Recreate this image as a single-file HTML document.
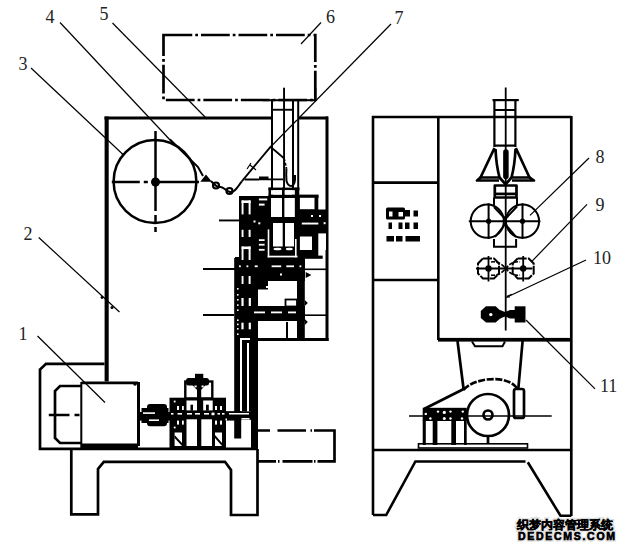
<!DOCTYPE html>
<html><head><meta charset="utf-8">
<style>
html,body{margin:0;padding:0;background:#fff;width:626px;height:551px;overflow:hidden}
svg{display:block}
text{font-family:"Liberation Serif",serif;font-size:18px;fill:#222}
</style></head>
<body>
<svg width="626" height="551" viewBox="0 0 626 551">
<rect width="626" height="551" fill="#fff"/>
<!-- labels -->
<g>
<text x="18.5" y="70">3</text>
<text x="45.5" y="23">4</text>
<text x="99.5" y="20">5</text>
<text x="326" y="23.3">6</text>
<text x="394.5" y="24">7</text>
<text x="23.5" y="240">2</text>
<text x="18.5" y="339.5">1</text>
<text x="595.5" y="163.3">8</text>
<text x="595.5" y="210.8">9</text>
<text x="593" y="264">10</text>
<text x="600" y="392">11</text>
</g>
<!-- leader lines -->
<g stroke="#000" stroke-width="1.2" fill="none">
<line x1="31" y1="68" x2="122.5" y2="154"/>
<line x1="60" y1="22.5" x2="171" y2="141"/>
<line x1="112.5" y1="23" x2="207" y2="119"/>
<line x1="321" y1="22.5" x2="301" y2="44"/>
<line x1="391" y1="24" x2="270.5" y2="147"/>
<line x1="38.75" y1="237.5" x2="119.5" y2="312"/>
<line x1="37.5" y1="336" x2="105" y2="402.5"/>
<line x1="589" y1="158" x2="530" y2="215.4"/>
<line x1="587" y1="204.4" x2="531.6" y2="261.6"/>
<line x1="586" y1="260" x2="506" y2="297.5"/>
<line x1="595" y1="388.8" x2="526" y2="320"/>
</g>
<g fill="#000"><circle cx="102" cy="297.5" r="1.4"/><circle cx="112" cy="307.5" r="1.5"/><circle cx="106.5" cy="151" r="1.3"/><circle cx="123" cy="154.5" r="1.3"/></g>
<!-- LEFT MACHINE -->
<g id="left">
<!-- dash-dot hopper rect -->
<path d="M163.5 35 H315.3 V100 H163.5 Z" fill="none" stroke="#000" stroke-width="2.7" stroke-dasharray="28.75,3,2.75,3"/>
<!-- frame -->
<rect x="104.5" y="116.5" width="167.5" height="3" fill="#000"/>
<rect x="297" y="116.5" width="31" height="3" fill="#000"/>
<rect x="104.6" y="116.5" width="4.1" height="265" fill="#000"/>
<rect x="325.5" y="116.5" width="3" height="224.5" fill="#000"/>
<rect x="257" y="338" width="71.6" height="3" fill="#000"/>
<!-- film roll -->
<circle cx="155" cy="181.5" r="41.4" fill="none" stroke="#000" stroke-width="2.5"/>
<circle cx="155.5" cy="182" r="4.5" fill="#000"/>
<path d="M155.5 131 V232" stroke="#000" stroke-width="2.5" stroke-dasharray="80,4,8,4"/>
<path d="M111.8 182 H199" stroke="#000" stroke-width="2.6" stroke-dasharray="28,4,4,4,50"/>

<!-- film path & V -->
<g stroke="#000" stroke-width="2" fill="none">
<path d="M170 139.5 L198 167 L203 176"/>
<path d="M241.8 181.3 L270.5 146.8 L284 158.3" stroke-width="1.8"/>
<path d="M284 158.3 L286.4 168.3" stroke-width="1.8" stroke-dasharray="3,1.5"/>
<path d="M286.4 168.3 Q286 176 286.5 181 Q288 186 291 186 Q294.5 185.5 295 180 V175" stroke-width="2"/>
<path d="M211 181 C214 184,217 188,220 187 C223 186,225 191,230 192 C235 193,238 186,241.8 181.3" stroke-width="2"/>
<path d="M250 165 l6 5 M247 169 l4 -6" stroke-width="1.2"/>
</g>
<path d="M200.3 181.8 L206 174.6 L211.8 181.8 Z" fill="#000"/>
<circle cx="216" cy="185.5" r="3" fill="none" stroke="#000" stroke-width="2.2"/>
<circle cx="229.5" cy="191" r="3" fill="none" stroke="#000" stroke-width="2.2"/>
<!-- left tube -->
<g fill="#000">
<rect x="262.5" y="99.2" width="53.8" height="2"/>
<rect x="271" y="99.2" width="2" height="97"/>
<rect x="292" y="99.2" width="2" height="97"/>
<rect x="297.2" y="99.2" width="2" height="97"/>
<rect x="283.1" y="87.7" width="1.9" height="108"/>
<rect x="271" y="108.8" width="23" height="1.9"/>
<rect x="314.4" y="88" width="1.9" height="13"/>
<path d="M244.6 178.4 H259 V176.6 H268.5 V178.4 H283 V180.2 H259 V180.6 H244.6 Z"/>
</g>
<rect x="294" y="116.4" width="3.2" height="3.2" fill="#fff"/>
<!-- gear assembly upper -->
<g fill="#000">
<rect x="268.5" y="187.6" width="31" height="2.6"/>
<rect x="268.5" y="194.6" width="50" height="3.4"/>
<rect x="239" y="196" width="31" height="62"/>
<rect x="268.5" y="187.6" width="2.5" height="70"/>
<rect x="282" y="187.6" width="2.6" height="70"/>
<rect x="294.6" y="187.6" width="4.5" height="70"/>
<rect x="268.5" y="217" width="31" height="41"/>
<rect x="299" y="195" width="19.3" height="63"/>
<rect x="299" y="209.5" width="28" height="40.5"/>
<rect x="299" y="249" width="7" height="9"/>
<rect x="235" y="257" width="70" height="24"/>
<rect x="234.2" y="258" width="24" height="80"/>
<rect x="258" y="306" width="47" height="15"/>
<rect x="268" y="304" width="16" height="19" rx="2"/>
<rect x="297" y="257" width="7.8" height="81"/>
<rect x="285" y="299" width="12.5" height="8"/>
<rect x="286" y="322" width="2" height="16"/>
<rect x="219" y="219.5" width="20" height="1.9"/>
<rect x="203" y="268" width="32" height="2"/>
<rect x="203" y="314" width="31" height="2"/>
<rect x="305" y="268.5" width="21" height="1.6"/>
<rect x="305" y="314.4" width="21" height="1.6"/>

<path d="M305.7 272 L311.4 275 L305.7 278 Z"/>
<path d="M304.8 300 l3 3 l-3 3 Z M304.8 319 l3 3 l-3 3 Z"/>
</g>
<g fill="#fff">
<rect x="241.6" y="200.4" width="9" height="2.6"/>
<rect x="241.6" y="200.4" width="1.9" height="14"/>
<rect x="248.6" y="200.4" width="2" height="14"/>
<rect x="241.6" y="229.8" width="1.9" height="7.2"/>
<rect x="248.6" y="229.8" width="2" height="7.2"/>
<rect x="258.9" y="198.5" width="8.3" height="1.9"/>
<rect x="258.9" y="203.6" width="5.7" height="2"/>
<rect x="271" y="190.2" width="11" height="4.4"/>
<rect x="284.6" y="190.2" width="10" height="4.4"/>
<rect x="271" y="198" width="11" height="19"/>
<rect x="284.6" y="198" width="10" height="19"/>
<rect x="273" y="223" width="9.7" height="23.5"/>
<rect x="285" y="223" width="9" height="23.5"/>
<rect x="267.7" y="255.7" width="29.8" height="1.7"/>
<rect x="267.7" y="229.4" width="1.6" height="28"/>
<rect x="295" y="239" width="1.6" height="18.4"/>
<ellipse cx="277.5" cy="249" rx="4" ry="1.3"/>
<ellipse cx="289.3" cy="249" rx="3.5" ry="1.3"/>
<rect x="299.9" y="197.8" width="14.6" height="11.4"/>
<rect x="311" y="215" width="2" height="2"/>
<rect x="319" y="215" width="2" height="2"/>
<rect x="301.8" y="222.6" width="16.5" height="1.9"/>
<rect x="323.6" y="222.2" width="2" height="2"/>
<rect x="299.9" y="236.5" width="12.1" height="13.5"/>
<rect x="318.3" y="233.4" width="7.7" height="16.6"/>
<rect x="241.6" y="246.5" width="9" height="2.6"/>
<rect x="241.6" y="246.5" width="1.9" height="13.5"/>
<rect x="248.6" y="246.5" width="2" height="13.5"/>
<rect x="253.5" y="220.5" width="2" height="2"/>
<rect x="258.3" y="222.3" width="2" height="2"/>
<rect x="258.9" y="239.2" width="5.7" height="1.8"/>
<rect x="258.9" y="243.8" width="5.7" height="1.8"/>
<rect x="258.9" y="248.9" width="5.7" height="1.8"/>
<rect x="239" y="265.4" width="1.8" height="1.8"/>
<rect x="246.5" y="265.4" width="1.8" height="1.8"/>
<rect x="254.7" y="265.4" width="3" height="1.8"/>
<rect x="271.6" y="265.4" width="9.6" height="1.8"/>
<rect x="286.3" y="265.4" width="7.7" height="1.8"/>
<rect x="299.5" y="265.4" width="1.8" height="1.8"/>
<rect x="241.6" y="276" width="1.9" height="8"/>
<rect x="248.6" y="276" width="2" height="8"/>
<path d="M268 281 H297 V306 H258 V289 H268 Z"/>
<rect x="286.7" y="300.5" width="9.3" height="4.3"/>
<rect x="254" y="311.5" width="11" height="1.8"/>
<rect x="271" y="311.5" width="11" height="1.8"/>
<rect x="288" y="311.5" width="8" height="1.8"/>
<rect x="258" y="321" width="28" height="17"/>
<rect x="288" y="321" width="9" height="17"/>
<rect x="280" y="273.5" width="2" height="2"/>
<rect x="264.5" y="280" width="2" height="2"/>
<rect x="241.4" y="298" width="2.2" height="8"/>
<rect x="248.7" y="298" width="2.2" height="8"/>
<rect x="241.4" y="322.7" width="2.2" height="6.6"/>
<rect x="248.7" y="322.7" width="2.2" height="6.6"/>
<rect x="237" y="288" width="1.6" height="1.6"/>
<rect x="237" y="294" width="1.6" height="1.6"/>
<rect x="237" y="299" width="1.6" height="1.6"/>
<rect x="237" y="304.3" width="1.6" height="1.6"/>
<rect x="237" y="309.4" width="1.6" height="1.6"/>
<rect x="237" y="319.4" width="1.6" height="1.6"/>
<rect x="237" y="323.6" width="1.6" height="1.6"/>
<rect x="237" y="328" width="1.6" height="1.6"/>
<rect x="237" y="333.4" width="1.6" height="1.6"/>
<rect x="237" y="339" width="1.6" height="1.6"/>
</g>
<g fill="none" stroke="#000" stroke-width="1.8">
<rect x="285.5" y="299.5" width="11.5" height="7"/>
</g>
<g fill="#000">
<rect x="258" y="280" width="10" height="9.5"/>
<rect x="305" y="255.6" width="17.7" height="3.2"/>
</g>
<rect x="266" y="286" width="2" height="2" fill="#fff"/>
<!-- chain / vertical drive below -->
<g fill="#000">
<rect x="234.2" y="338" width="23.6" height="73"/>
<rect x="234.2" y="411" width="7" height="27.5"/>
<rect x="251" y="338" width="7" height="111"/>
<rect x="225" y="411.4" width="26" height="8.2"/>
</g>
<g fill="#fff">
<rect x="240" y="338" width="2" height="73"/>
<rect x="240" y="338" width="10" height="2"/>
<rect x="247" y="343" width="2" height="69"/>
<rect x="227" y="413" width="22" height="1.5"/>
<rect x="241.5" y="418" width="8" height="1.5"/>
</g>
</g>

<!-- motor -->
<g fill="none" stroke="#000" stroke-width="2.7">
<path d="M104.5 363.8 H46 L40 369.5 V448.8 H257.5"/>
<path d="M81.3 443 H60 L55 438 V391 L60 386 H81.3"/>
<path d="M48.8 415 H69.5 M74.5 415 H79.5"/>
</g>
<rect x="80.3" y="382" width="2" height="66" fill="#000"/>
<path d="M81.3 382.8 H138" fill="none" stroke="#000" stroke-width="2.7"/>
<rect x="137" y="382" width="3" height="64" fill="#000"/>
<circle cx="135" cy="384" r="1.8" fill="#000"/>
<rect x="81" y="443.5" width="57" height="5.3" fill="#000"/>
<!-- left base -->
<path d="M71.3 449 V514.3 H98 V469 L103.8 461.8 H225 L231 470 V515 H257.5 V449" fill="none" stroke="#000" stroke-width="2.7"/>
<!-- dash-dot rect 2 -->
<path d="M258 430.5 H270 M277.5 430.5 H306 M310.5 430.5 H312 M314 430.5 H334.5 V461.3 H317.5 M315.5 461.3 H314 M312.5 461.3 H282.5 M279.5 461.3 H278 M276 461.3 H258" fill="none" stroke="#000" stroke-width="2.7"/>
<!-- coupling -->
<g fill="#000">
<rect x="138" y="412" width="100" height="8.6"/>
<rect x="147" y="404" width="20" height="22.3" rx="3"/>
<rect x="141.5" y="408" width="27" height="15"/>
</g>
<g fill="#fff">
<rect x="143" y="412.3" width="12" height="1.6"/>
<rect x="149" y="419.4" width="10" height="1.6"/>
</g>
<!-- gearbox -->
<g fill="none" stroke="#000" stroke-width="2.4">
<rect x="185.3" y="381.5" width="27" height="17"/>
</g>
<g fill="#000">
<rect x="169.5" y="397.7" width="56.5" height="50.8"/>
<rect x="186" y="378" width="23" height="7.4" rx="2.5"/>
<rect x="195" y="373.8" width="8.3" height="5"/>
<path d="M192.5 385 L196.5 389.5 H201.5 L205.5 385 Z"/>
<rect x="197" y="389" width="4.2" height="9"/>
<rect x="226" y="411.4" width="26" height="8.2"/>
</g>
<g fill="#fff">
<rect x="186.5" y="400.5" width="10.5" height="9.9"/>
<rect x="203.2" y="400.5" width="9.5" height="9.9"/>
<rect x="186.5" y="419.3" width="10.5" height="26.7"/>
<rect x="201.3" y="419.3" width="10.7" height="26.7"/>
<rect x="173.8" y="400.6" width="1.8" height="1.8"/>
<rect x="177" y="406" width="2" height="4"/><rect x="182" y="406" width="1.8" height="4"/>
<rect x="177" y="420.6" width="2" height="4"/><rect x="182" y="420.6" width="1.8" height="4"/>
<rect x="173.8" y="426.6" width="1.8" height="1.8"/>
<rect x="174.6" y="432.5" width="7.4" height="13.5"/>
<rect x="215" y="406" width="2" height="4"/><rect x="220" y="406" width="2" height="4"/>
<rect x="215" y="420.6" width="2" height="4"/><rect x="220" y="420.6" width="2" height="4"/>
<rect x="215" y="432.5" width="7" height="13.5"/>
<rect x="171" y="413" width="2.5" height="1.6"/><rect x="177.5" y="413" width="4.5" height="1.6"/>
<rect x="187" y="413" width="5" height="1.6"/><rect x="195" y="413" width="5" height="1.6"/>
<rect x="204" y="413" width="5" height="1.6"/><rect x="211.5" y="412.6" width="3" height="2.6"/>
<rect x="217.5" y="413" width="2.5" height="1.6"/><rect x="222" y="413" width="2.5" height="1.6"/>
<rect x="194.5" y="385.5" width="2.2" height="1.8"/><rect x="201.5" y="385.5" width="2.2" height="1.8"/>
<rect x="229" y="413" width="20" height="1.5"/>
<rect x="241.5" y="418" width="8" height="1.5"/>
<rect x="225.5" y="418.5" width="1.5" height="2"/>
</g>
<g fill="#000">
<rect x="190.5" y="404.7" width="2.5" height="6"/>
<rect x="206" y="404.7" width="2.8" height="6"/>
<path d="M174.6 435 L182 443 V446 L174.6 438 Z M215 435 L222 443 V446 L215 438 Z"/>
</g>
<!-- RIGHT MACHINE -->
<g fill="none" stroke="#000" stroke-width="2.6">
<path d="M373 515 V117 H571.3"/>
<path d="M571.3 116 V516" stroke-width="2.7"/>
<path d="M438.3 117 V340"/>
<path d="M373 182.6 H438.3 M373 280 H438.3"/>
<path d="M373 450 H571.3"/>
<path d="M373 515 H386.2 L415.4 461.5 H525.5"/>
<path d="M527.8 462.2 L560.5 515.8 H571.3"/>
</g>
<rect x="438" y="337.9" width="133.3" height="3.7" fill="#000"/>
<!-- right tube -->
<g fill="#000">
<rect x="492.5" y="99" width="26.3" height="2.2"/>
<rect x="493.3" y="99" width="2.2" height="48"/>
<rect x="514.3" y="99" width="2.2" height="48"/>
<rect x="495" y="109" width="20" height="2"/>
<rect x="504.8" y="87.5" width="1.8" height="243"/>
<rect x="495" y="144.5" width="20" height="2.2"/>
</g>
<g fill="none" stroke="#000" stroke-width="2.7" stroke-linejoin="round">
<path d="M494.5 148 L480.5 177.5 H499.5 C497.5 170,496 160,495.5 149"/>
<path d="M481 177 L477 180.5 H499"/>
<path d="M515.8 148 L529.5 177.5 H511.5 C513.5 170,515 160,515.5 149"/>
<path d="M529 177 L534 180.5 H512"/>
<path d="M499.5 177.5 L505.6 184.4 L511.5 177.5"/>
<rect x="504.5" y="150.5" width="2.8" height="27.5" rx="1.4"/>
<rect x="494.8" y="185.5" width="21.7" height="12"/>
<path d="M494.8 193.9 H516.5"/>
</g>
<g fill="#000">
</g>
<g fill="none" stroke="#000" stroke-width="2">
<path d="M494 197.5 V205.9 M517 197.5 V205.9"/>
<path d="M494 239 V246.8 H516.1 V239" />
<circle cx="487.3" cy="221.2" r="16.6"/>
<circle cx="522.5" cy="221.2" r="16.6"/>
<path d="M468.8 221.2 H540.4 M488.6 203.3 V239 M522.5 203.3 V239" stroke-width="2"/>
<path d="M494 207 L505.3 219 L517 206.5 M495 237 L505.3 224 L516 237" stroke-width="2"/>
<path d="M483 258.5 H494 L499 263.5 V273.5 L494 278.5 H483 L478 273.5 V263.5 Z" stroke-dasharray="9,1.2" stroke-width="2"/>
<path d="M517.7 258.5 H528.7 L533.7 263.5 V273.5 L528.7 278.5 H517.7 L512.7 273.5 V263.5 Z" stroke-dasharray="9,1.2" stroke-width="2"/>
<path d="M491 262 Q499 260.5,505.8 268.5 Q512 260.5,520 262 M491 275 Q499 276.5,505.8 268.5 Q512 276.5,520 275" stroke-width="1.7" stroke-dasharray="4,1.5"/>
<path d="M476 268.5 H532.4 M488.5 256 V281.6 M523.2 256 V281.6" stroke-width="1.8"/>
</g>
<circle cx="488.6" cy="221.2" r="2.6" fill="#000"/><circle cx="522.5" cy="221.2" r="2.6" fill="#000"/><circle cx="505.4" cy="217.8" r="1.8" fill="#000"/><circle cx="505.4" cy="224.6" r="1.8" fill="#000"/>
<circle cx="488.5" cy="268.5" r="3.2" fill="#000"/>
<circle cx="523.2" cy="268.5" r="3.2" fill="#000"/>
<circle cx="505.8" cy="268.5" r="2" fill="#000"/>
<!-- sealer 11 -->
<path d="M486 306.3 H495.6 L500.8 311 V318 L495.6 322.5 H486 L480.8 318 V311 Z" fill="#000"/>
<circle cx="490.8" cy="314.6" r="1.7" fill="#fff"/>
<path d="M500 310 L505 312 L510 310 H515 V318.6 H510 L505 316.5 L500 318.6 Z" fill="#000"/>
<rect x="514.7" y="306.3" width="10.8" height="16.2" fill="#000"/>
<path d="M507 296.3 l5 -2 M507 297 h3" stroke="#000" stroke-width="1.2"/>
<!-- control marks -->
<g fill="#000">
<rect x="386" y="207.5" width="19" height="12" rx="1.5"/>
<rect x="405" y="210" width="5" height="6.5"/><rect x="413.5" y="210.5" width="4.5" height="6"/>
<rect x="388.5" y="222.5" width="3.5" height="6.5"/><rect x="398.5" y="222.5" width="4" height="6.5"/>
<rect x="405" y="222.5" width="4.5" height="6.5"/><rect x="413.5" y="222.5" width="4.5" height="6.5"/>
<rect x="386.5" y="236" width="7.5" height="5.5"/><rect x="396" y="236" width="6.5" height="5.5"/>
<rect x="405.5" y="236" width="14.5" height="5.5"/>
</g>
<g fill="#fff"><rect x="389" y="211.5" width="3.5" height="5"/><rect x="398.5" y="212" width="4.5" height="4.5"/></g>
<!-- lower drive -->
<g fill="none" stroke="#000" stroke-width="2.7">
<path d="M457.5 341 L463.7 390 M522.6 341 L518.3 389"/>
<path d="M472 341.5 L475 346.2 H502.5 L505 341.5" stroke-width="2"/>
<circle cx="488" cy="415" r="21"/>
<circle cx="488" cy="415" r="4.5"/>
<path d="M463.7 390 C472 379,505 373,517 388" stroke-dasharray="7,1.6"/>
<path d="M424 409 L463.7 389"/>
<rect x="514" y="389" width="10" height="29" rx="2"/>
<rect x="418.5" y="443.8" width="109" height="4.2" stroke-width="1.6"/>
<path d="M488 436 V444"/>
</g>
<path d="M409 416 H551.7" stroke="#000" stroke-width="1.6"/>
<g fill="#000">
<rect x="422.7" y="407.8" width="44" height="13.2"/>
<rect x="422.7" y="420" width="3.1" height="25"/>
<rect x="432.7" y="420" width="4.7" height="25"/>
<rect x="451.3" y="420" width="4.7" height="25"/>
<rect x="464" y="420" width="2.7" height="25"/>
</g>
<g fill="#fff">
<circle cx="425.8" cy="413.9" r="1.2"/><circle cx="438" cy="411.6" r="1.2"/><circle cx="444.3" cy="412.4" r="1.6"/><circle cx="450.5" cy="411.6" r="1.2"/>
<circle cx="430.4" cy="418.5" r="1.2"/><circle cx="444.3" cy="418.5" r="1.5"/><circle cx="450.5" cy="418.5" r="1.2"/><circle cx="462" cy="418.5" r="1.2"/><circle cx="462.8" cy="411.6" r="1.2"/>
</g>
<!-- watermark -->
<g>
<text x="517" y="528.5" style="font-family:'Liberation Sans',sans-serif;font-weight:bold;font-size:12px;fill:#000;stroke:#ddd;stroke-width:3;paint-order:stroke">织梦内容管理系统</text>
<text x="517" y="528.5" style="font-family:'Liberation Sans',sans-serif;font-weight:bold;font-size:12px;fill:#000;stroke:#000;stroke-width:0.25">织梦内容管理系统</text>
<text x="518" y="540.3" textLength="97" lengthAdjust="spacing" style="font-family:'Liberation Sans',sans-serif;font-weight:bold;font-size:10.5px;fill:#000;stroke:#ddd;stroke-width:3;paint-order:stroke">DEDECMS.COM</text>
<text x="518" y="540.3" textLength="97" lengthAdjust="spacing" style="font-family:'Liberation Sans',sans-serif;font-weight:bold;font-size:10.5px;fill:#000;stroke:#000;stroke-width:0.4">DEDECMS.COM</text>
</g>
</svg>
</body></html>
